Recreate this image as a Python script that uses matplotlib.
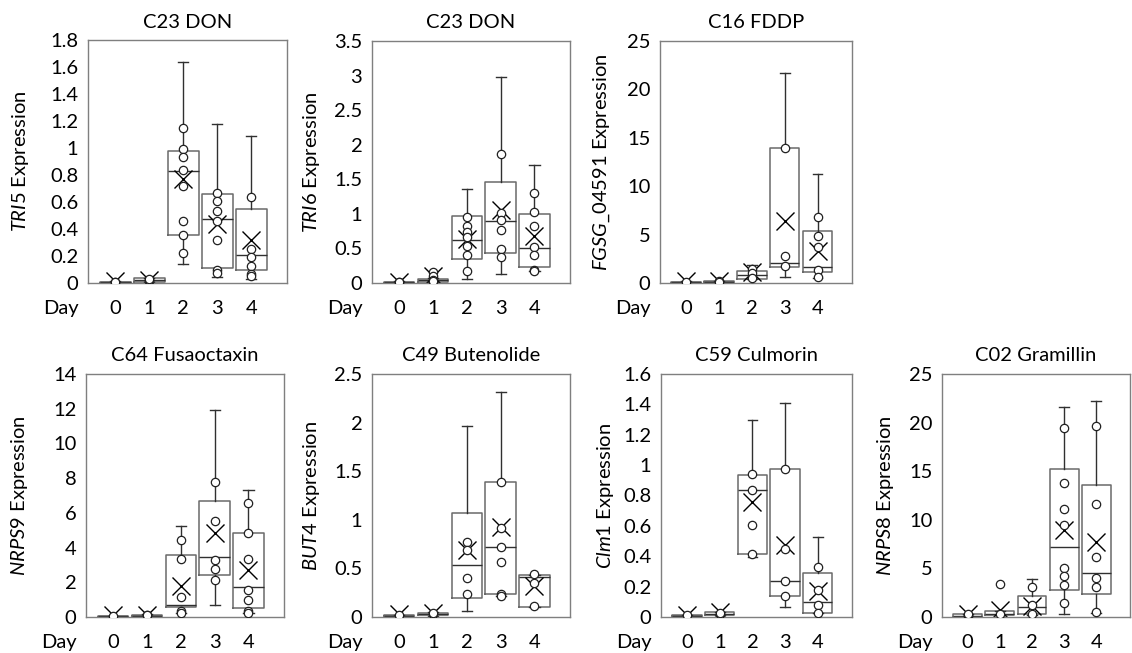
import numpy as np
import matplotlib
matplotlib.use("Agg")
import matplotlib.pyplot as plt
from matplotlib.ticker import FuncFormatter

plt.rcParams['font.family'] = ['Lato', 'DejaVu Sans']
plt.rcParams['mathtext.fontset'] = 'custom'
plt.rcParams['mathtext.rm'] = 'Lato'
plt.rcParams['mathtext.it'] = 'Lato:italic'

days = ['0', '1', '2', '3', '4']

# box stats per day: (whisker low, q1, median, q3, whisker high)
tri5_stats = [(0.0, 0.002, 0.005, 0.01, 0.012), (0.005, 0.01, 0.02, 0.035, 0.037),
              (0.143, 0.353, 0.833, 0.98, 1.64), (0.044, 0.11, 0.476, 0.66, 1.18),
              (0.032, 0.094, 0.21, 0.55, 1.09)]
tri5_mean = [0.012, 0.025, 0.77, 0.44, 0.315]
tri5_pts = [[0.005, 0.01], [0.015, 0.02, 0.03],
            [1.15, 0.99, 0.93, 0.84, 0.72, 0.456, 0.353, 0.224],
            [0.666, 0.61, 0.53, 0.46, 0.315, 0.094, 0.074],
            [0.64, 0.254, 0.19, 0.123, 0.064, 0.052]]

tri6_stats = [(0.0, 0.005, 0.01, 0.02, 0.025), (0.01, 0.02, 0.04, 0.06, 0.07),
              (0.058, 0.35, 0.62, 0.966, 1.36), (0.135, 0.435, 0.9, 1.46, 2.98),
              (0.17, 0.23, 0.507, 1.0, 1.71)]
tri6_mean = [0.02, 0.1, 0.63, 1.06, 0.676]
tri6_pts = [[0.01, 0.02], [0.16, 0.1, 0.05, 0.03],
            [0.956, 0.82, 0.74, 0.667, 0.53, 0.40, 0.18],
            [1.87, 1.01, 0.91, 0.77, 0.49, 0.377],
            [1.30, 1.03, 0.82, 0.52, 0.40, 0.19, 0.18]]

fgsg_stats = [(0.0, 0.05, 0.1, 0.15, 0.2), (0.05, 0.1, 0.15, 0.2, 0.25),
              (0.41, 0.41, 0.86, 1.27, 1.89), (0.58, 1.62, 2.06, 13.9, 21.7),
              (0.52, 1.1, 1.62, 5.33, 11.24)]
fgsg_mean = [0.2, 0.24, 1.1, 6.43, 3.34]
fgsg_pts = [[0.1], [0.2, 0.15],
            [1.44, 1.03, 0.48],
            [13.9, 2.75, 1.79],
            [6.77, 4.88, 3.68, 1.38, 0.65]]

nrps9_stats = [(0.0, 0.02, 0.04, 0.06, 0.08), (0.03, 0.05, 0.08, 0.13, 0.15),
               (0.23, 0.575, 0.71, 3.59, 5.22), (0.69, 2.42, 3.47, 6.71, 11.93),
               (0.23, 0.52, 1.73, 4.83, 7.29)]
nrps9_mean = [0.1, 0.12, 1.76, 4.83, 2.69]
nrps9_pts = [[0.05], [0.1, 0.12],
             [4.45, 3.34, 1.15, 0.33, 0.23],
             [7.77, 5.54, 3.26, 2.76, 2.11],
             [6.56, 4.83, 3.34, 1.53, 1.0, 0.33, 0.23]]

but4_stats = [(0.0, 0.01, 0.015, 0.02, 0.025), (0.015, 0.02, 0.03, 0.045, 0.05),
              (0.058, 0.2, 0.54, 1.065, 1.97), (0.22, 0.234, 0.72, 1.39, 2.31),
              (0.1, 0.1, 0.41, 0.43, 0.43)]
but4_mean = [0.03, 0.045, 0.687, 0.927, 0.316]
but4_pts = [[0.02], [0.03, 0.04],
            [0.773, 0.687, 0.40, 0.234],
            [1.39, 0.92, 0.72, 0.567, 0.234, 0.22],
            [0.44, 0.35, 0.11]]

clm1_stats = [(0.0, 0.005, 0.008, 0.012, 0.015), (0.01, 0.012, 0.02, 0.03, 0.035),
              (0.395, 0.414, 0.837, 0.936, 1.30), (0.066, 0.136, 0.235, 0.973, 1.41),
              (0.026, 0.026, 0.096, 0.289, 0.526)]
clm1_mean = [0.015, 0.033, 0.76, 0.476, 0.169]
clm1_pts = [[0.01], [0.02, 0.025],
            [0.94, 0.837, 0.607, 0.414],
            [0.973, 0.447, 0.235, 0.14],
            [0.327, 0.175, 0.081, 0.026]]

nrps8_stats = [(0.0, 0.05, 0.15, 0.3, 0.35), (0.2, 0.24, 0.35, 0.58, 0.6),
               (0.24, 0.34, 1.03, 2.12, 3.9), (0.34, 2.81, 7.19, 15.2, 21.6),
               (0.41, 2.4, 4.52, 13.6, 22.2)]
nrps8_mean = [0.34, 0.75, 1.16, 8.9, 7.67]
nrps8_pts = [[0.1, 0.2, 0.3], [3.39, 0.3],
             [3.08, 1.27, 0.34],
             [19.4, 13.8, 11.1, 9.49, 5.03, 4.18, 3.32, 1.44],
             [19.7, 11.6, 6.13, 4.0, 3.08, 0.48]]

panels = [
    ("C23 DON", r"$\mathit{TRI5}$ Expression", tri5_stats, tri5_mean, tri5_pts, 1.8, 0.2),
    ("C23 DON", r"$\mathit{TRI6}$ Expression", tri6_stats, tri6_mean, tri6_pts, 3.5, 0.5),
    ("C16 FDDP", r"$\mathit{FGSG\_04591}$ Expression", fgsg_stats, fgsg_mean, fgsg_pts, 25, 5),
    ("C64 Fusaoctaxin", r"$\mathit{NRPS9}$ Expression", nrps9_stats, nrps9_mean, nrps9_pts, 14, 2),
    ("C49 Butenolide", r"$\mathit{BUT4}$ Expression", but4_stats, but4_mean, but4_pts, 2.5, 0.5),
    ("C59 Culmorin", r"$\mathit{Clm1}$ Expression", clm1_stats, clm1_mean, clm1_pts, 1.6, 0.2),
    ("C02 Gramillin", r"$\mathit{NRPS8}$ Expression", nrps8_stats, nrps8_mean, nrps8_pts, 25, 5),
]

# axes boxes in pixels: left, right, top, bottom, and y-label centre offset from the left edge
W, H = 1132, 653
boxes_px = [(88, 287, 40, 283, -66), (372, 570, 41, 283, -59), (660, 852, 41, 283, -57),
            (86, 284, 374, 617, -65), (372, 570, 374, 617, -59), (661, 852, 374, 617, -54),
            (942, 1130, 374, 617, -55)]

fig = plt.figure(figsize=(W / 100, H / 100), dpi=100)

box_col = '#6a6a6a'
line_col = '#303030'
fs = 14.5

for (title, ylab, stats, means, pts, ymax, step), (l, r, t, b, lab_dx) in zip(panels, boxes_px):
    ax = fig.add_axes([l / W, 1 - b / H, (r - l) / W, (b - t) / H])
    pos = np.arange(len(days))
    bstats = []
    for (lo, q1, med, q3, hi), m in zip(stats, means):
        bstats.append(dict(whislo=lo, q1=q1, med=med, q3=q3, whishi=hi, mean=m, fliers=[]))
    ax.bxp(bstats, positions=pos, widths=0.9, capwidths=0.3, showmeans=True, showfliers=False,
           boxprops=dict(color=box_col, lw=1.1),
           medianprops=dict(color=line_col, lw=1.0),
           whiskerprops=dict(color=line_col, lw=1.0),
           capprops=dict(color=line_col, lw=1.0),
           meanprops=dict(marker='x', markersize=13, markeredgecolor='black',
                          markeredgewidth=1.0, linestyle='none'))
    for p, vals in zip(pos, pts):
        ax.plot([p] * len(vals), vals, 'o', mfc='white', mec='#202020', ms=6, mew=0.9, zorder=4)

    ax.set_xlim(-0.8, 5.05)
    ax.set_ylim(0, ymax)
    ax.set_yticks(np.round(np.arange(0, ymax + step / 2, step), 2))
    ax.yaxis.set_major_formatter(FuncFormatter(lambda v, _: '%g' % v))
    ax.set_xticks(pos)
    ax.set_xticklabels(days)
    ax.tick_params(axis='both', length=0, labelsize=fs, colors='black')
    ax.tick_params(axis='x', pad=12)
    ax.tick_params(axis='y', pad=7)
    for s in ax.spines.values():
        s.set_color('#7f7f7f')
        s.set_linewidth(1.0)
    ax.set_title(title, fontsize=fs, pad=9)
    ax.set_ylabel(ylab, fontsize=fs)
    ax.yaxis.set_label_coords((lab_dx + 9) / (r - l), 0.5)
    ax.annotate('Day', xy=(0, 0), xycoords='axes fraction', xytext=(-7, -12),
                textcoords='offset points', ha='right', va='top', fontsize=fs)

fig.savefig('out.png', dpi=100)
